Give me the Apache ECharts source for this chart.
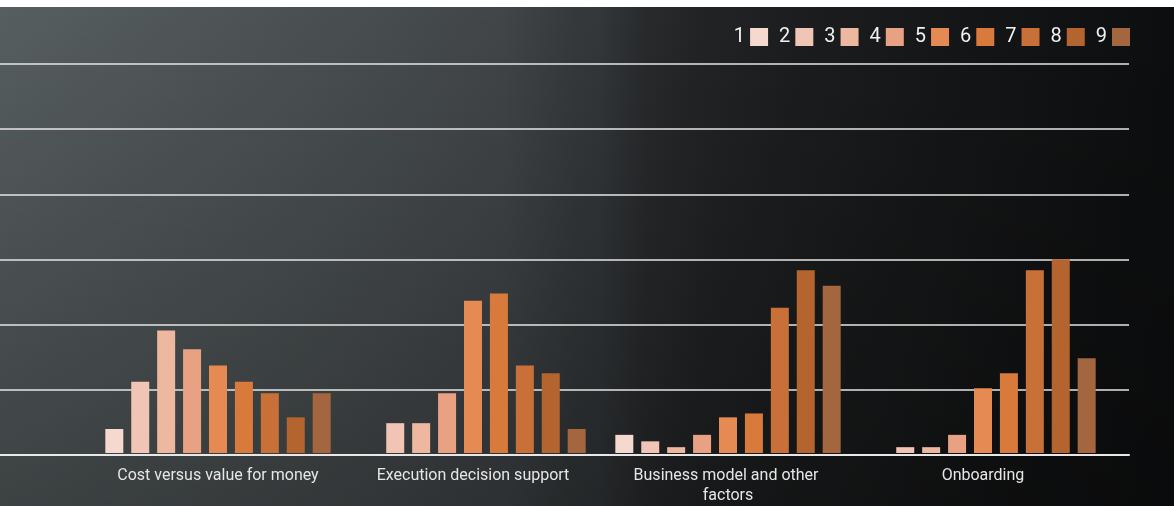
<!DOCTYPE html>
<html>
<head>
<meta charset="utf-8">
<title>Ratings by factor</title>
<script src="https://cdn.jsdelivr.net/npm/echarts@6/dist/echarts.min.js"></script>
<style>
  html, body { margin: 0; padding: 0; background: #ffffff; }
  #chart {
    position: absolute; left: 0; top: 7px; width: 1174px; height: 499px;
    background:
      linear-gradient(to bottom, rgba(0,0,0,0) 0%, rgba(0,0,0,0.3) 100%),
      linear-gradient(to right, #575e60 0%, #4b5153 25%, #414548 43%, #35393b 49%, #33373a 51%, #282a2c 55%, #212325 60%, #1b1d1e 68%, #131415 85%, #0d0e0f 100%);
  }
</style>
</head>
<body>
<div id="chart"></div>
<script>
// Factor groups on the x axis
const categories = ['Cost versus value for money', 'Execution decision support', 'Business model and other factors', 'Onboarding'];

// Rating levels shown in the legend
const ratingLevels = ['1', '2', '3', '4', '5', '6', '7', '8', '9'];

// Share of responses (%) per rating level, one value per factor
const rating1 = [3.7, 0, 2.8, 0];
const rating2 = [11.0, 4.6, 1.8, 0.9];
const rating3 = [18.9, 4.6, 0.9, 0.9];
const rating4 = [16.0, 9.2, 2.8, 2.8];
const rating5 = [13.5, 23.5, 5.5, 10.0];
const rating6 = [11.0, 24.6, 6.1, 12.3];
const rating7 = [9.2, 13.5, 22.4, 28.2];
const rating8 = [5.5, 12.3, 28.2, 29.9];
const rating9 = [9.2, 3.7, 25.8, 14.6];

// Value axis range (gridlines every 10%)
const valueMax = 60;
const valueStep = 10;

const ratingData = [rating1, rating2, rating3, rating4, rating5, rating6, rating7, rating8, rating9];
const palette = ['#f5d9ce', '#f0c5b5', '#edb89f', '#e8a283', '#e58a52', '#d97a3d', '#c87038', '#b4652f', '#a3663f'];

const labelFont = 'Roboto, "Noto Sans", sans-serif';

const chart = echarts.init(document.getElementById('chart'), null, { renderer: 'canvas' });

chart.setOption({
  backgroundColor: 'transparent',
  animation: false,
  legend: {
    data: ratingLevels,
    right: 44,
    top: 20,
    padding: 0,
    align: 'right',
    itemWidth: 18,
    itemHeight: 18,
    itemGap: 11,
    icon: 'rect',
    selectedMode: false,
    textStyle: { color: '#f0f0f0', fontSize: 20, fontFamily: labelFont }
  },
  grid: [
    // full-width grid that carries the horizontal rules
    { left: 0, right: 45, top: 57, bottom: 51, containLabel: false },
    // inner grid holding the grouped bars
    { left: 90.5, right: 63.5, top: 57, bottom: 51, containLabel: false }
  ],
  xAxis: [
    {
      gridIndex: 0, type: 'value', min: 0, max: 1,
      axisLine: { show: true, lineStyle: { color: '#e8e8e8', width: 2 } },
      axisTick: { show: false }, axisLabel: { show: false }, splitLine: { show: false }
    },
    {
      gridIndex: 1, type: 'category', data: categories,
      axisLine: { show: false }, axisTick: { show: false },
      axisLabel: {
        color: '#e6e6e6', fontSize: 16, fontFamily: labelFont,
        margin: 13, lineHeight: 20, width: 215, overflow: 'break', interval: 0
      }
    }
  ],
  yAxis: [
    {
      gridIndex: 0, type: 'value', min: 0, max: valueMax, interval: valueStep,
      axisLine: { show: false }, axisTick: { show: false }, axisLabel: { show: false },
      splitLine: { show: true, lineStyle: { color: '#e6e6e6', width: 1.5 } }
    },
    {
      gridIndex: 1, type: 'value', min: 0, max: valueMax, interval: valueStep,
      show: false, splitLine: { show: false }
    }
  ],
  series: ratingLevels.map((name, i) => ({
    name: name,
    type: 'bar',
    xAxisIndex: 1,
    yAxisIndex: 1,
    data: ratingData[i],
    barWidth: 18,
    barGap: '44%',
    itemStyle: { color: palette[i] }
  }))
});
</script>
</body>
</html>
